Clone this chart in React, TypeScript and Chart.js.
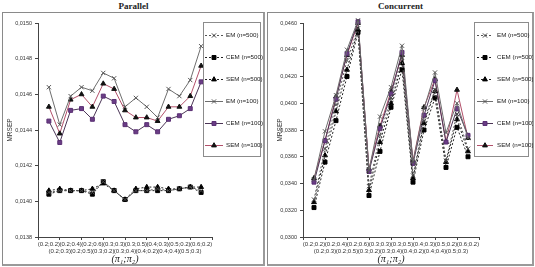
import { useEffect, useRef } from 'react';
import { Chart, registerables } from 'chart.js';
import { drawPoint } from 'chart.js/helpers';

Chart.register(...registerables);

// (π1;π2) combinations along the horizontal axis
const pairs = [
  '(0.2;0.2)', '(0.2;0.3)', '(0.2;0.4)', '(0.2;0.5)', '(0.2;0.6)',
  '(0.3;0.2)', '(0.3;0.3)', '(0.3;0.4)', '(0.3;0.5)',
  '(0.4;0.2)', '(0.4;0.3)', '(0.4;0.4)',
  '(0.5;0.2)', '(0.5;0.3)', '(0.6;0.2)',
];

const seriesNames = ['EM (n=500)', 'CEM (n=500)', 'SEM (n=500)', 'EM (n=100)', 'CEM (n=100)', 'SEM (n=100)'];

// MRSEP, parallel design
const parEM500 = [0.01405, 0.01406, 0.01406, 0.01406, 0.01405, 0.01411, 0.01406, 0.01401, 0.01406, 0.01406, 0.01407, 0.01406, 0.01407, 0.01408, 0.01406];
const parCEM500 = [0.01404, 0.01406, 0.01406, 0.01406, 0.01404, 0.01411, 0.01406, 0.01401, 0.01406, 0.01406, 0.01406, 0.01406, 0.01407, 0.01408, 0.01405];
const parSEM500 = [0.01406, 0.01407, 0.01406, 0.01406, 0.01407, 0.0141, 0.01406, 0.01401, 0.01407, 0.01408, 0.01408, 0.01407, 0.01407, 0.01408, 0.01408];
const parEM100 = [0.01464, 0.01443, 0.01459, 0.01464, 0.01462, 0.01472, 0.01469, 0.01453, 0.01458, 0.01453, 0.01447, 0.01463, 0.01459, 0.01468, 0.01487];
const parCEM100 = [0.01445, 0.01433, 0.01451, 0.01452, 0.01446, 0.01459, 0.01456, 0.01443, 0.01439, 0.01443, 0.01439, 0.01446, 0.01448, 0.01452, 0.01467];
const parSEM100 = [0.01453, 0.01438, 0.01457, 0.0146, 0.01453, 0.01466, 0.01463, 0.01451, 0.01447, 0.01447, 0.01445, 0.01453, 0.01453, 0.01459, 0.01476];

// MRSEP, concurrent design
const conEM500 = [0.0328, 0.0366, 0.0399, 0.0432, 0.0456, 0.0338, 0.0376, 0.0404, 0.0434, 0.0346, 0.0387, 0.041, 0.0357, 0.0392, 0.0366];
const conCEM500 = [0.0322, 0.0356, 0.0387, 0.042, 0.0453, 0.0331, 0.0364, 0.0397, 0.0425, 0.0341, 0.038, 0.0404, 0.0352, 0.0382, 0.036];
const conSEM500 = [0.0326, 0.0361, 0.0394, 0.0425, 0.0455, 0.0335, 0.0371, 0.04, 0.043, 0.0344, 0.0385, 0.0409, 0.0356, 0.0388, 0.0364];
const conEM100 = [0.0343, 0.0379, 0.0406, 0.044, 0.0462, 0.035, 0.039, 0.0412, 0.0443, 0.0356, 0.0396, 0.0423, 0.0378, 0.04, 0.0374];
const conCEM100 = [0.0341, 0.0372, 0.0403, 0.0437, 0.0461, 0.0349, 0.0381, 0.0407, 0.0438, 0.0355, 0.0391, 0.0417, 0.0371, 0.0396, 0.0376];
const conSEM100 = [0.0344, 0.0372, 0.0405, 0.0436, 0.046, 0.0351, 0.0383, 0.0409, 0.0436, 0.0357, 0.0397, 0.0418, 0.0371, 0.041, 0.0374];

// Vertical axis ticks
const parallelYTicks = [0.0138, 0.014, 0.0142, 0.0144, 0.0146, 0.0148, 0.015];
const concurrentYTicks = [0.03, 0.032, 0.034, 0.036, 0.038, 0.04, 0.042, 0.044, 0.046];

type SeriesStyle = {
  line: string;
  dash: number[];
  marker: string;
  fill: string;
  stroke: string;
  radius: number;
};

const styles: SeriesStyle[] = [
  { line: '#555555', dash: [2, 2], marker: 'crossRot', fill: '#555555', stroke: '#444444', radius: 3 },
  { line: '#222222', dash: [2, 2], marker: 'rect', fill: '#000000', stroke: '#000000', radius: 2.8 },
  { line: '#222222', dash: [2, 2], marker: 'triangle', fill: '#000000', stroke: '#000000', radius: 2.8 },
  { line: '#6e6e6e', dash: [], marker: 'crossRot', fill: '#555555', stroke: '#555555', radius: 3 },
  { line: '#4b3556', dash: [], marker: 'rect', fill: '#6a3d86', stroke: '#5a2f73', radius: 2.8 },
  { line: '#b2506a', dash: [], marker: 'triangle', fill: '#111111', stroke: '#111111', radius: 2.8 },
];

const fmt = (v: number) => v.toFixed(4).replace('.', ',');

const xTickValues = Array.from({ length: 17 }, (_, i) => i - 1);

// Series key drawn as a boxed list with line sample, marker and name
const seriesKey = {
  id: 'seriesKey',
  afterDraw(chart: any, _args: any, opts: any) {
    const { ctx } = chart;
    const [bx, by, bw, bh] = opts.box;
    ctx.save();
    ctx.fillStyle = '#ffffff';
    ctx.fillRect(bx, by, bw, bh);
    ctx.strokeStyle = '#8c8c8c';
    ctx.lineWidth = 1;
    ctx.strokeRect(bx + 0.5, by + 0.5, bw, bh);
    chart.data.datasets.forEach((ds: any, i: number) => {
      const st = styles[i];
      const y = Math.round(opts.y0 + opts.dy * i) + 0.5;
      ctx.strokeStyle = st.line;
      ctx.lineWidth = 1;
      ctx.setLineDash(st.dash);
      ctx.beginPath();
      ctx.moveTo(opts.x0, y);
      ctx.lineTo(opts.x1, y);
      ctx.stroke();
      ctx.setLineDash([]);
      ctx.fillStyle = st.fill;
      ctx.strokeStyle = st.stroke;
      ctx.lineWidth = 1;
      drawPoint(ctx, { pointStyle: st.marker as any, radius: st.radius, rotation: 0, borderWidth: 1 }, (opts.x0 + opts.x1) / 2, y);
      ctx.fillStyle = '#222222';
      ctx.font = '6.2px "Liberation Sans", Arial, sans-serif';
      ctx.textBaseline = 'middle';
      ctx.textAlign = 'left';
      ctx.fillText(ds.label, opts.textX, y);
    });
    ctx.restore();
  },
};

type PanelCfg = {
  title: string;
  frame: { left: number; width: number };
  canvas: { left: number; width: number };
  series: number[][];
  yTicks: number[];
  padRight: number;
  yTitlePad: number;
  key: { box: number[]; x0: number; x1: number; textX: number; y0: number; dy: number };
};

const PANEL_TOP = 12;
const CANVAS_H = 255;

function Panel({ cfg }: { cfg: PanelCfg }) {
  const ref = useRef<HTMLCanvasElement | null>(null);

  useEffect(() => {
    if (!ref.current) return;
    const yMin = cfg.yTicks[0];
    const yMax = cfg.yTicks[cfg.yTicks.length - 1];
    const chart = new Chart(ref.current, {
      type: 'line',
      data: {
        datasets: cfg.series.map((vals, i) => {
          const st = styles[i];
          return {
            label: seriesNames[i],
            data: vals.map((v, k) => ({ x: k, y: v })),
            borderColor: st.line,
            borderWidth: 1,
            borderDash: st.dash,
            pointStyle: st.marker as any,
            pointRadius: st.radius,
            pointBackgroundColor: st.fill,
            pointBorderColor: st.stroke,
            pointBorderWidth: 1,
            tension: 0,
            clip: false as any,
          };
        }),
      },
      options: {
        responsive: false,
        animation: false,
        events: [],
        layout: { padding: { top: 11, right: cfg.padRight, left: 0, bottom: 0 } },
        plugins: {
          legend: { display: false },
          tooltip: { enabled: false },
          seriesKey: cfg.key,
        } as any,
        scales: {
          x: {
            type: 'linear',
            min: -1,
            max: 15,
            afterBuildTicks: (s: any) => {
              s.ticks = xTickValues.map((v) => ({ value: v }));
            },
            afterFit: (s: any) => {
              s.height = CANVAS_H - 225;
            },
            border: { color: '#444444', width: 1 },
            grid: {
              drawOnChartArea: false,
              tickLength: 3,
              color: (c: any) => (c.tick && Math.abs(c.tick.value % 2) === 1 ? '#444444' : 'rgba(0,0,0,0)'),
            },
            ticks: {
              autoSkip: false,
              maxRotation: 0,
              minRotation: 0,
              padding: 0,
              color: '#333333',
              font: { family: '"Liberation Sans", Arial, sans-serif', size: 6, lineHeight: 1.3 },
              callback: (v: any) => {
                const i = Number(v);
                if (i < 0 || i >= pairs.length) return '';
                return i % 2 === 0 ? [pairs[i], ''] : ['', pairs[i]];
              },
            },
            title: {
              display: true,
              text: '(π₁;π₂)',
              color: '#222222',
              font: { family: '"Liberation Serif", "Times New Roman", serif', style: 'italic', size: 10, lineHeight: 1.2 },
              padding: { top: 0, bottom: 2 },
            },
          },
          y: {
            min: yMin,
            max: yMax,
            afterBuildTicks: (s: any) => {
              s.ticks = cfg.yTicks.map((v) => ({ value: v }));
            },
            afterFit: (s: any) => {
              s.width = 35;
            },
            border: { color: '#444444', width: 1 },
            grid: { drawOnChartArea: false, tickLength: 3, color: '#444444' },
            ticks: {
              padding: 3,
              color: '#333333',
              font: { family: '"Liberation Sans", Arial, sans-serif', size: 5.5 },
              callback: (v: any) => fmt(Number(v)),
            },
            title: {
              display: true,
              text: 'MRSEP',
              color: '#333333',
              font: { family: '"Liberation Sans", Arial, sans-serif', size: 6.5, lineHeight: 1.2 },
              padding: { top: cfg.yTitlePad, bottom: 0 },
            },
          },
        },
      },
      plugins: [seriesKey],
    });
    return () => chart.destroy();
  }, [cfg]);

  return (
    <>
      <div
        style={{
          position: 'absolute',
          left: cfg.frame.left + cfg.frame.width / 2 - 60,
          top: 0,
          width: 120,
          textAlign: 'center',
          font: 'bold 9px "Liberation Serif", "Times New Roman", serif',
          lineHeight: '12px',
          color: '#222',
        }}
      >
        {cfg.title}
      </div>
      <div
        style={{
          position: 'absolute',
          left: cfg.frame.left,
          top: PANEL_TOP,
          width: cfg.frame.width,
          height: 267 - PANEL_TOP - 1,
          boxSizing: 'border-box',
          borderTop: '1px solid #8a8a8a',
          borderLeft: '1px solid #8a8a8a',
          borderRight: '2px solid #9a9a9a',
          borderBottom: '2px solid #9a9a9a',
        }}
      />
      <canvas
        ref={ref}
        width={cfg.canvas.width}
        height={CANVAS_H}
        style={{
          position: 'absolute',
          left: cfg.canvas.left,
          top: PANEL_TOP,
          width: cfg.canvas.width,
          height: CANVAS_H,
        }}
      />
    </>
  );
}

const parallelCfg: PanelCfg = {
  title: 'Parallel',
  frame: { left: 2, width: 263 },
  canvas: { left: 3, width: 260 },
  series: [parEM500, parCEM500, parSEM500, parEM100, parCEM100, parSEM100],
  yTicks: parallelYTicks,
  padRight: 51,
  yTitlePad: 3,
  key: { box: [200, 10, 57, 134], x0: 202, x1: 220, textX: 223, y0: 23, dy: 22 },
};

const concurrentCfg: PanelCfg = {
  title: 'Concurrent',
  frame: { left: 267, width: 267 },
  canvas: { left: 268, width: 265 },
  series: [conEM500, conCEM500, conSEM500, conEM100, conCEM100, conSEM100],
  yTicks: concurrentYTicks,
  padRight: 54,
  yTitlePad: 8,
  key: { box: [206, 10, 54, 134], x0: 209, x1: 225, textX: 229, y0: 23, dy: 22 },
};

export default function App() {
  return (
    <div
      style={{
        position: 'fixed',
        left: 0,
        top: 0,
        width: 535,
        height: 267,
        background: '#ffffff',
        overflow: 'hidden',
      }}
    >
      <Panel cfg={parallelCfg} />
      <Panel cfg={concurrentCfg} />
    </div>
  );
}
